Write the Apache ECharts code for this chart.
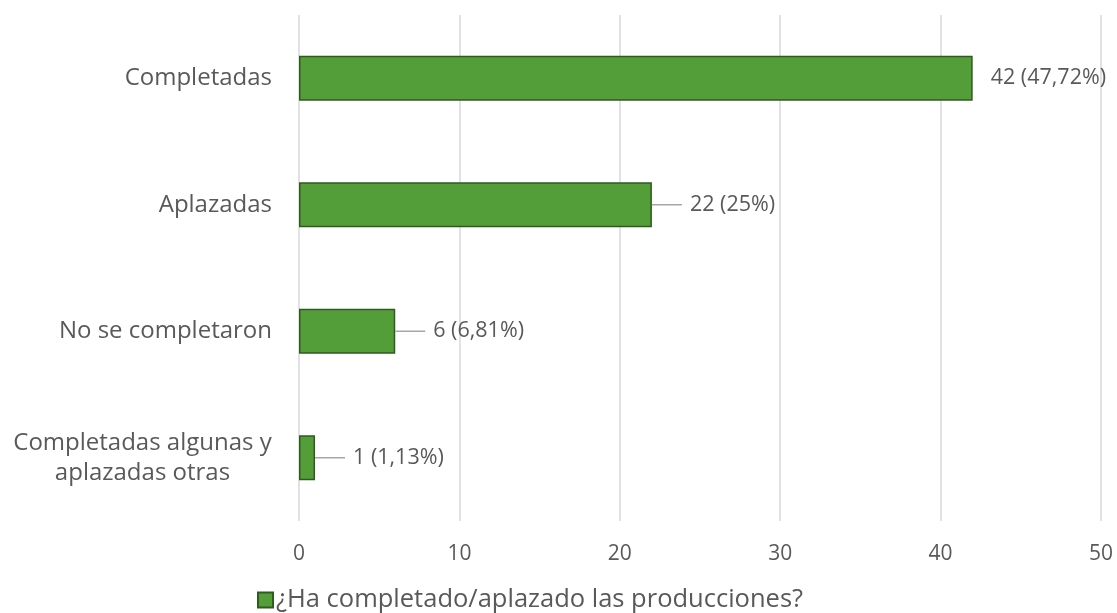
<!DOCTYPE html>
<html>
<head>
<meta charset="utf-8">
<script src="https://cdn.jsdelivr.net/npm/echarts@6/dist/echarts.min.js"></script>
<style>
  html, body { margin: 0; padding: 0; background: #fff; }
  #chart { width: 1117px; height: 613px; }
</style>
</head>
<body>
<div id="chart"></div>
<script>
// datos
const categories = ['Completadas', 'Aplazadas', 'No se completaron', 'Completadas algunas y\naplazadas otras']
const counts = [42, 22, 6, 1]
const percents = ['47,72%', '25%', '6,81%', '1,13%']
const seriesName = '¿Ha completado/aplazado las producciones?'
const xMin = 0
const xMax = 50
const xStep = 10

const FONT = '"Open Sans", sans-serif'
const TEXT = '#595959'
const catSize = 24

// ancho del renglón más largo, para centrar etiquetas de dos líneas
const measure = (txt, size) => {
  const ctx = document.createElement('canvas').getContext('2d')
  ctx.font = size + 'px "Open Sans"'
  return Math.ceil(ctx.measureText(txt).width)
}

const chart = echarts.init(document.getElementById('chart'))

const option = {
  backgroundColor: '#fff',
  animation: false,
  grid: {
    left: 299,
    right: 16,
    top: 15,
    bottom: 92,
    outerBoundsMode: 'none'
  },
  legend: {
    left: 252,
    top: 582,
    icon: 'rect',
    itemWidth: 15,
    itemHeight: 15,
    itemGap: 10,
    textStyle: { color: TEXT, fontSize: 25.5, fontFamily: FONT, padding: [0, 0, 0, -2] },
    data: [seriesName]
  },
  xAxis: {
    type: 'value',
    min: xMin,
    max: xMax,
    interval: xStep,
    axisLine: { show: false },
    axisTick: { show: false },
    axisLabel: { color: TEXT, fontSize: 21, fontFamily: FONT, margin: 23 },
    splitLine: { show: true, lineStyle: { color: '#d9d9d9', width: 1.5 } }
  },
  yAxis: {
    type: 'category',
    inverse: true,
    data: categories,
    axisLine: { show: false },
    axisTick: { show: false },
    axisLabel: {
      color: TEXT,
      fontSize: catSize,
      fontFamily: FONT,
      lineHeight: 30,
      margin: 27,
      align: 'right',
      formatter: (val) => {
        const lines = val.split('\n')
        if (lines.length === 1) return val
        return lines.map(l => '{c|' + l + '}').join('\n')
      },
      rich: {
        c: {
          width: Math.max(...categories.flatMap(c => c.split('\n').length > 1 ? c.split('\n').map(l => measure(l, catSize)) : [0])),
          align: 'center',
          color: TEXT,
          fontSize: catSize,
          fontFamily: FONT,
          lineHeight: 30
        }
      }
    }
  },
  series: [
    {
      name: seriesName,
      type: 'bar',
      barWidth: 45,
      data: counts.map((v, i) => ({
        value: v,
        label: { distance: i === 0 ? 10 : 0 }
      })),
      itemStyle: {
        color: '#549e39',
        borderColor: '#2f5a20',
        borderWidth: 1.5
      },
      label: {
        show: true,
        position: 'right',
        color: TEXT,
        fontSize: 21.5,
        fontFamily: FONT,
        formatter: (p) => {
          const txt = p.value + ' (' + percents[p.dataIndex] + ')'
          return p.dataIndex === 0 ? '{t|' + txt + '}' : '{line| }{t|' + txt + '}'
        },
        rich: {
          line: { width: 30, height: 1.5, backgroundColor: '#a6a6a6' },
          t: { color: TEXT, fontSize: 21.5, fontFamily: FONT, padding: [0, 0, 0, 8] }
        }
      }
    }
  ]
}

chart.setOption(option)
window.addEventListener('resize', () => chart.resize())
</script>
</body>
</html>
